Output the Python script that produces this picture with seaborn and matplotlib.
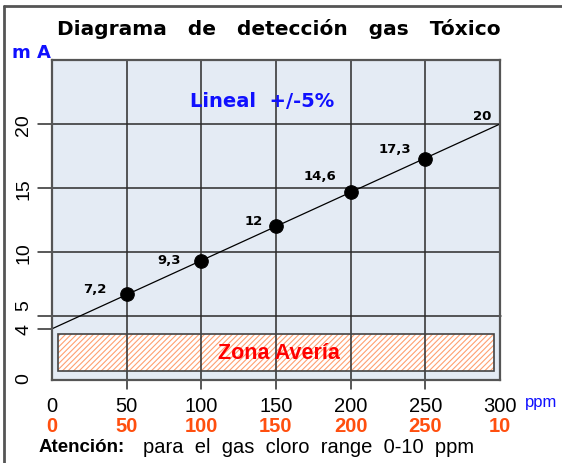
import matplotlib

matplotlib.use("Agg")
import matplotlib.pyplot as plt
import pandas as pd
import seaborn as sns
from matplotlib.lines import Line2D
from matplotlib.patches import Rectangle

# data
ppm = [50, 100, 150, 200, 250]
ma = [6.7, 9.3, 12.0, 14.7, 17.3]
point_labels = ["7,2", "9,3", "12", "14,6", "17,3"]
line_ppm = [0, 300]
line_ma = [4, 20]
end_label = "20"
ppm_ticks = [0, 50, 100, 150, 200, 250, 300]
chlorine_labels = ["0", "50", "100", "150", "200", "250", "10"]
ma_ticks = [0, 4, 5, 10, 15, 20]
fault_zone = (4, 296, 0.73, 3.6)  # ppm from/to, mA from/to

# label offsets in points (dx, dy)
label_offsets = [(-23, 4), (-23, 1), (-16, 4), (-22, 12), (-22, 7)]
# the 4 and 5 labels sit close together, nudge them apart
ma_label_pos = {0: 0.2, 4: 4.0, 5: 5.9, 10: 10, 15: 15, 20: 20}

sns.set_style("white")
plt.rcParams["font.family"] = ["Liberation Sans", "DejaVu Sans"]
plt.rcParams["text.color"] = "black"
plt.rcParams["hatch.linewidth"] = 0.8

BG = "#e4ebf4"
GRID = "#2b2b2b"
ORANGE = "#ff4f0f"
BLUE = "#1010ff"

fig = plt.figure(figsize=(5.62, 4.64), dpi=100)
ax = fig.add_axes([52 / 562, 1 - 381 / 464, 448 / 562, 320 / 464])
ax.set_facecolor(BG)
ax.set_xlim(0, 300)
ax.set_ylim(0, 25)

# grid drawn by hand so it can poke outside the axes
for v in ppm:
    ax.plot([v, v], [-0.7, 25], color=GRID, lw=1.1, clip_on=False, zorder=1)
for h in [10, 15, 20]:
    ax.plot([-9.4, 300], [h, h], color=GRID, lw=1.1, clip_on=False, zorder=1)
ax.plot([-9.4, 301], [5, 5], color=GRID, lw=1.1, clip_on=False, zorder=1)
ax.plot([-9.4, 0], [4, 4], color=GRID, lw=1.1, clip_on=False, zorder=1)

# fault zone
x0, x1, y0, y1 = fault_zone
ax.add_patch(Rectangle((x0, y0), x1 - x0, y1 - y0, facecolor="white",
                       edgecolor="#ffa070", hatch="//////", lw=0, zorder=0.5))
ax.add_patch(Rectangle((x0, y0), x1 - x0, y1 - y0, facecolor="none",
                       edgecolor="#444444", lw=1.2, zorder=1.5))
ax.text((x0 + x1) / 2 + 2, (y0 + y1) / 2, "Zona Avería", color="#ff0000",
        fontsize=15.5, fontweight="bold", ha="center", va="center", zorder=3)

line_df = pd.DataFrame({"ppm": line_ppm, "mA": line_ma})
pts_df = pd.DataFrame({"ppm": ppm, "mA": ma})
sns.lineplot(data=line_df, x="ppm", y="mA", ax=ax, color="black", lw=0.9, zorder=2)
sns.scatterplot(data=pts_df, x="ppm", y="mA", ax=ax, color="black", s=95,
                edgecolor="black", zorder=4)

for x, y, lab, (dx, dy) in zip(ppm, ma, point_labels, label_offsets):
    ax.annotate(lab, (x, y), xytext=(dx, dy), textcoords="offset points",
                ha="center", va="center", fontsize=9.5, fontweight="bold",
                family=["DejaVu Sans"], zorder=5)
ax.annotate(end_label, (line_ppm[-1], line_ma[-1]), xytext=(-13, 6),
            textcoords="offset points", ha="center", va="center",
            fontsize=9.5, fontweight="bold", family=["DejaVu Sans"])

ax.text(141, 21.8, "Lineal  +/-5%", color=BLUE, fontsize=14,
        fontweight="bold", ha="center", va="center", family=["DejaVu Sans"])

for s in ax.spines.values():
    s.set_color("#555555")
    s.set_linewidth(1.6)
ax.set_xticks([])
ax.set_yticks([])
ax.set_xlabel("")
ax.set_ylabel("")

# tick labels
for t in ma_ticks:
    ax.text(-19, ma_label_pos[t], str(t), rotation=90, ha="center", va="center",
            fontsize=14, clip_on=False)
for t, lab in zip(ppm_ticks, chlorine_labels):
    ax.text(t, -2.0, str(t), ha="center", va="center", fontsize=14.5, clip_on=False)
    ax.text(t, -3.55, lab, ha="center", va="center", fontsize=14.5,
            fontweight="bold", color=ORANGE, clip_on=False)

fig.text(541 / 562, 1 - 403 / 464, "ppm", color=BLUE, fontsize=12,
         ha="center", va="center")
fig.text(31 / 562, 1 - 53 / 464, "m A", color=BLUE, fontsize=13,
         fontweight="bold", ha="center", va="center", family=["DejaVu Sans"])
fig.text(279 / 562, 1 - 29 / 464, "Diagrama   de   detección   gas   Tóxico",
         fontsize=14.5, fontweight="bold", ha="center", va="center",
         family=["DejaVu Sans"])
fig.text(39 / 562, 1 - 448 / 464, "Atención:", fontsize=13.5,
         fontweight="bold", ha="left", va="center")
fig.text(143 / 562, 1 - 448 / 464, "para  el  gas  cloro  range  0-10  ppm",
         fontsize=14.5, ha="left", va="center")

# outer frame (only top and left edges visible)
fig.add_artist(Line2D([4 / 562, 4 / 562], [0, 1 - 7 / 464], color="#555555",
                      lw=2, transform=fig.transFigure))
fig.add_artist(Line2D([4 / 562, 1], [1 - 7 / 464, 1 - 7 / 464], color="#555555",
                      lw=2, transform=fig.transFigure))

fig.savefig("out.png", dpi=100)
